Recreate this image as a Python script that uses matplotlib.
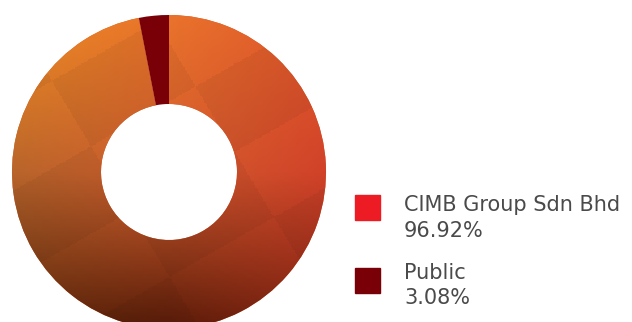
import numpy as np
import matplotlib.pyplot as plt
from matplotlib.colors import to_rgb
from matplotlib.patches import Rectangle

labels = ["Public", "CIMB Group Sdn Bhd"]
shares = [3.08, 96.92]
legend_order = ["CIMB Group Sdn Bhd", "Public"]
legend_colors = {"CIMB Group Sdn Bhd": "#ed1c24", "Public": "#7a0008"}

plt.rcParams['font.family'] = ['DejaVu Sans']

fig = plt.figure(figsize=(6.32, 3.22), dpi=100)
ax = fig.add_axes([0, 0, 1, 1])

cx, cy, R, r = 169, 150, 157, 68
wedges, _ = ax.pie(shares, colors=["#7a0008", "#d85a2a"], startangle=90,
                   counterclock=True, center=(cx, cy), radius=R,
                   wedgeprops=dict(width=R - r, linewidth=0), frame=True)
ax.set_xlim(0, 632)
ax.set_ylim(0, 322)
ax.set_aspect('equal')
ax.axis('off')

# textured gradient for the large wedge
ctrl = np.array([
    [to_rgb(c) for c in ["#e88a22", "#e4702a", "#dc562a"]],
    [to_rgb(c) for c in ["#b4622a", "#cc5a2c", "#cc4028"]],
    [to_rgb(c) for c in ["#542408", "#561a08", "#7a2010"]],
])
n = 240
u = np.linspace(0, 2, n)
gy, gx = np.meshgrid(u, u, indexing='ij')
i0 = np.clip(gy.astype(int), 0, 1)
j0 = np.clip(gx.astype(int), 0, 1)
fy = (gy - i0)[..., None]
fx = (gx - j0)[..., None]
img = (ctrl[i0, j0] * (1 - fy) * (1 - fx) + ctrl[i0, j0 + 1] * (1 - fy) * fx
       + ctrl[i0 + 1, j0] * fy * (1 - fx) + ctrl[i0 + 1, j0 + 1] * fy * fx)
# soft faceted shading
facet = 0.025 * np.sign(np.sin((gx * 0.8 + gy * 1.4) * 4.0)) * np.sign(np.sin((gx - gy * 0.6) * 3.5))
img = np.clip(img * (1 + facet[..., None]), 0, 1)
im = ax.imshow(img, extent=(cx - R, cx + R, cy - R, cy + R), origin='upper',
               interpolation='nearest', zorder=2)
im.set_clip_path(wedges[1])
wedges[0].set_zorder(3)
ax.set_xlim(0, 632)
ax.set_ylim(0, 322)

# legend (pixel positions from top)
rows = [(195, 211, 237), (268, 279, 304)]
for name, (sq_top, b1, b2) in zip(legend_order, rows):
    ax.add_patch(Rectangle((355, 322 - sq_top - 25), 25, 25,
                           color=legend_colors[name], zorder=3))
    pct = shares[labels.index(name)]
    ax.text(404, 322 - b1, name, fontsize=15, color="#4a4a4a",
            va='baseline', ha='left')
    ax.text(404, 322 - b2, f"{pct:.2f}%", fontsize=15,
            color="#4a4a4a", va='baseline', ha='left')

fig.savefig("out.png", dpi=100)
